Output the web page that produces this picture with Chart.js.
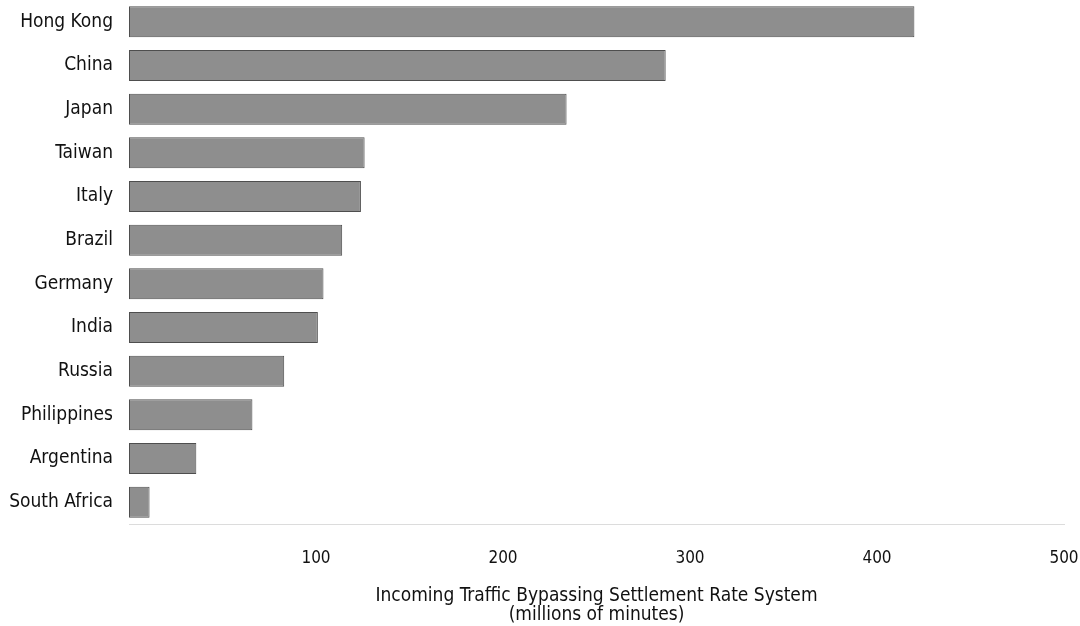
<!DOCTYPE html>
<html>
<head>
<meta charset="utf-8">
<script src="https://cdn.jsdelivr.net/npm/chart.js@4"></script>
<style>
  html, body { margin: 0; padding: 0; background: #fff; }
  #wrap { width: 1080px; height: 626px; position: relative; }
</style>
</head>
<body>
<div id="wrap"><canvas id="chart"></canvas></div>
<script>
const countries = ['Hong Kong', 'China', 'Japan', 'Taiwan', 'Italy', 'Brazil',
                   'Germany', 'India', 'Russia', 'Philippines', 'Argentina', 'South Africa'];
const minutes = [420, 287, 234, 126, 124, 114, 104, 101, 83, 66, 36, 11];
const xTicks = [100, 200, 300, 400, 500];

const FONT = '"Liberation Sans Narrow", "DejaVu Sans Condensed", "Roboto", sans-serif';

new Chart(document.getElementById('chart'), {
    type: 'bar',
    data: {
        labels: countries,
        datasets: [{
            data: minutes,
            backgroundColor: '#8e8e8e',
            borderColor: '#4e4e4e',
            borderWidth: 1,
            borderSkipped: false,
            categoryPercentage: 1,
            barPercentage: 0.71
        }]
    },
    options: {
        indexAxis: 'y',
        responsive: true,
        maintainAspectRatio: false,
        animation: false,
        layout: { padding: 0 },
        plugins: { legend: { display: false }, tooltip: { enabled: false } },
        scales: {
            y: {
                grid: { display: false, drawTicks: false },
                border: { display: false },
                ticks: { color: '#111', padding: 16, font: { family: FONT, size: 19 } },
                afterFit: s => { s.width = 129; s.paddingTop = 0; s.paddingBottom = 0; }
            },
            x: {
                min: 0, max: 500,
                afterBuildTicks: s => { s.ticks = [0, ...xTicks].map(v => ({ value: v })); },
                grid: { display: false, drawTicks: false },
                border: { display: true, color: '#dcdcdc', width: 1 },
                ticks: {
                    color: '#111', padding: 24,
                    font: { family: FONT, size: 17 },
                    callback: v => (v === 0 ? '' : v)
                },
                title: {
                    display: true,
                    text: ['Incoming Traffic Bypassing Settlement Rate System', '(millions of minutes)'],
                    color: '#111',
                    font: { family: FONT, size: 19, lineHeight: 1.0 },
                    padding: { top: 18, bottom: 1 }
                },
                afterFit: s => { s.height = 102; s.paddingLeft = 0; s.paddingRight = 16; }
            }
        }
    }
});
</script>
</body>
</html>
